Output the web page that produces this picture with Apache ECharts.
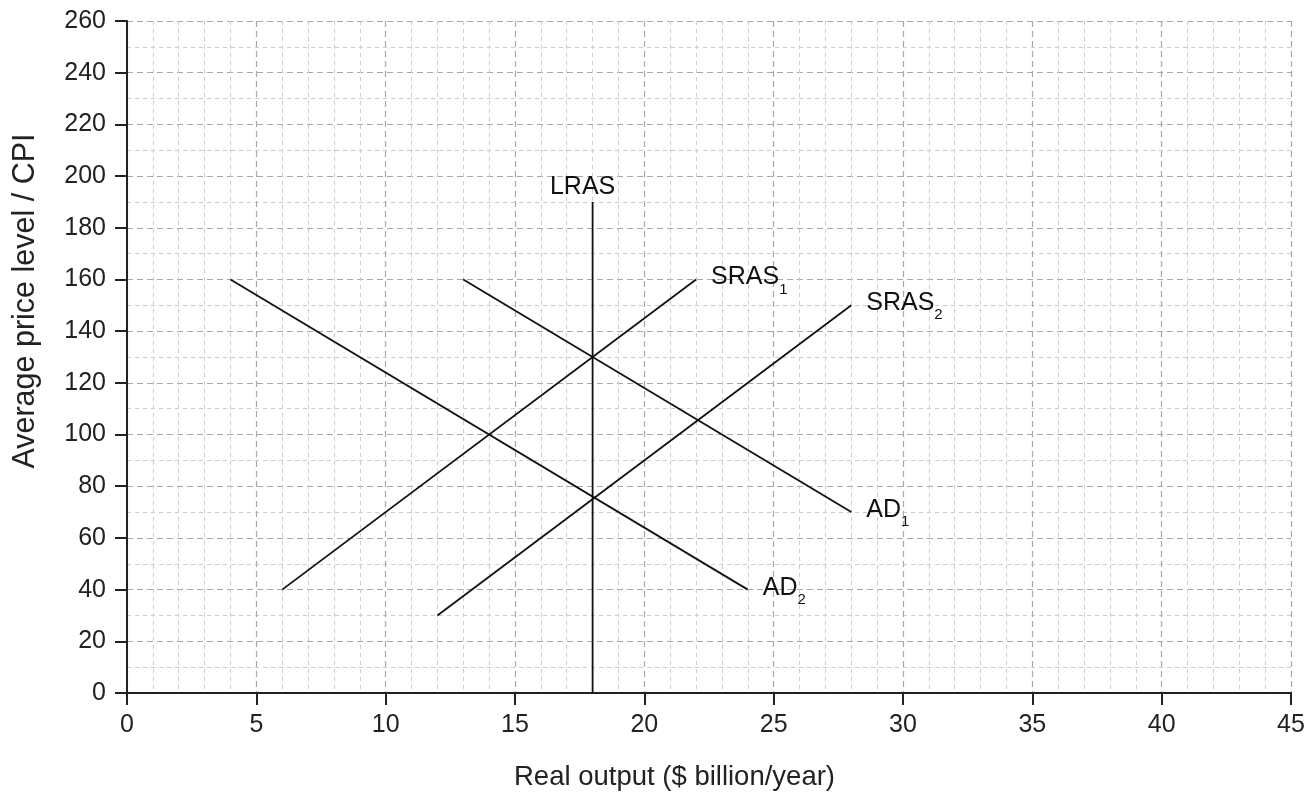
<!DOCTYPE html>
<html><head><meta charset="utf-8">
<script src="https://cdn.jsdelivr.net/npm/echarts@6/dist/echarts.min.js"></script>
<style>html,body{margin:0;padding:0;background:#fff}#c{width:1309px;height:793px}</style>
</head><body><div id="c"></div>
<script>
const xTicks = [0,5,10,15,20,25,30,35,40,45];
const yTicks = [0,20,40,60,80,100,120,140,160,180,200,220,240,260];
const lineNames = ['LRAS','SRAS1','SRAS2','AD1','AD2'];
const LRAS = [[18,0],[18,190]];
const SRAS1 = [[6,40],[22,160]];
const SRAS2 = [[12,30],[28,150]];
const AD1 = [[13,160],[28,70]];
const AD2 = [[4,160],[24,40]];
const labelText = {LRAS:['LRAS',''], SRAS1:['SRAS','1'], SRAS2:['SRAS','2'], AD1:['AD','1'], AD2:['AD','2']};
const lineData = {LRAS, SRAS1, SRAS2, AD1, AD2};

const FONT = 'Liberation Sans, Arial, sans-serif';
const chart = echarts.init(document.getElementById('c'));
const series = lineNames.map(n => {
  const isL = n === 'LRAS';
  const t = labelText[n];
  const lbl = {
    show: true,
    formatter: t[1] ? '{a|' + t[0] + '}{s|' + t[1] + '}' : '{a|' + t[0] + '}',
    distance: 15,
    offset: [0, -2],
    color: '#111',
    rich: {
      a: {fontSize: 25, fontFamily: FONT, color: '#111'},
      s: {fontSize: 15, fontFamily: FONT, color: '#111', padding: [24, 0, 0, 0]}
    }
  };
  if (isL) {
    lbl.distance = 0;
    lbl.align = 'center';
    lbl.verticalAlign = 'bottom';
    lbl.offset = [-10, -2];
  }
  return {
    type: 'line', name: n, data: lineData[n], symbol: 'none', silent: true,
    lineStyle: {color: '#111', width: 1.8},
    endLabel: lbl
  };
});

chart.setOption({
  animation: false,
  grid: {left: 127, right: 18, top: 21, bottom: 100, containLabel: false},
  xAxis: {
    type: 'value', min: 0, max: 45, interval: 5,
    axisLine: {lineStyle: {color: '#222', width: 2}},
    axisTick: {show: true, length: 12, lineStyle: {color: '#222', width: 2}},
    axisLabel: {fontSize: 25, fontFamily: FONT, color: '#222', margin: 20, formatter: v => xTicks.includes(v) ? String(v) : ''},
    splitLine: {show: true, lineStyle: {color: '#a8a8a8', type: [6, 4], width: 1.2}},
    minorTick: {show: true, splitNumber: 5, length: 0},
    minorSplitLine: {show: true, lineStyle: {color: '#cccccc', type: [4, 4], width: 1}}
  },
  yAxis: {
    type: 'value', min: 0, max: 260, interval: 20,
    axisLine: {show: true, lineStyle: {color: '#222', width: 2}},
    axisTick: {show: true, length: 12, lineStyle: {color: '#222', width: 2}},
    axisLabel: {fontSize: 25, fontFamily: FONT, color: '#222', margin: 21, formatter: v => yTicks.includes(v) ? String(v) : ''},
    splitLine: {show: true, lineStyle: {color: '#a8a8a8', type: [6, 4], width: 1.2}},
    minorTick: {show: true, splitNumber: 2, length: 0},
    minorSplitLine: {show: true, lineStyle: {color: '#cccccc', type: [4, 4], width: 1}}
  },
  graphic: [
    {type: 'text', left: 514, top: 763, style: {text: 'Real output ($ billion/year)', fontSize: 27.5, fontFamily: FONT, fill: '#222'}},
    {type: 'text', x: 26, y: 301, rotation: Math.PI / 2, style: {text: 'Average price level / CPI', fontSize: 30.5, fontFamily: FONT, fill: '#222', align: 'center', verticalAlign: 'middle'}}
  ],
  series
});
</script></body></html>
